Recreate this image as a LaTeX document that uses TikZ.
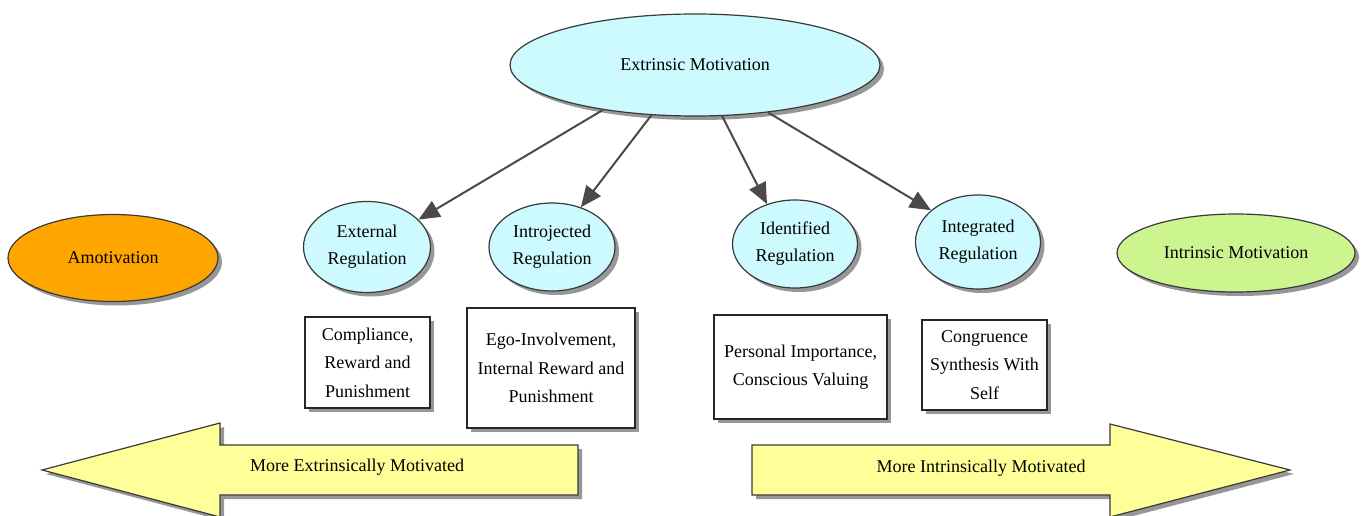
\documentclass[tikz,border=0pt]{standalone}
\usepackage{fontspec}
\setmainfont{Liberation Serif}
\usetikzlibrary{shapes.geometric,shadows,arrows.meta}

\definecolor{cyanfill}{HTML}{CCFAFE}
\definecolor{orangefill}{HTML}{FFA500}
\definecolor{greenfill}{HTML}{CCF590}
\definecolor{yellowfill}{HTML}{FFFF99}
\definecolor{linkgray}{HTML}{4A4A4A}
\definecolor{edgegray}{HTML}{3A3A3A}

\tikzset{
  shade/.style={drop shadow={shadow xshift=4pt, shadow yshift=-4pt, fill=black!45, opacity=0.9}},
  oval/.style={ellipse, draw=edgegray, line width=1.2pt, inner sep=0pt, shade,
    align=center, font=\fontsize{18}{27}\selectfont},
  notebox/.style={rectangle, draw=black!85, line width=1.5pt, fill=white, inner sep=0pt,
    shade, align=center, font=\fontsize{18}{28.5}\selectfont},
  bigarrow/.style={draw=edgegray, line width=1.2pt, fill=yellowfill, shade},
  link/.style={draw=linkgray, line width=2pt,
    -{Triangle[length=21pt,width=18pt]}, fill=linkgray},
  label/.style={font=\fontsize{18}{22}\selectfont, inner sep=0pt}
}

\begin{document}
\begin{tikzpicture}[x=1pt,y=-1pt]
\useasboundingbox (0,0) rectangle (1365,516);

% top concept
\node[oval, fill=cyanfill, minimum width=370pt, minimum height=102pt] (em) at (695,65) {Extrinsic Motivation};

% two ends of the continuum
\node[oval, fill=orangefill, minimum width=210pt, minimum height=87pt] (amo) at (113,258) {Amotivation};
\node[oval, fill=greenfill, minimum width=238pt, minimum height=78pt] (im) at (1236,253) {Intrinsic Motivation};

% regulation styles
\node[oval, fill=cyanfill, minimum width=127pt, minimum height=91pt] (ext) at (367,247) {External\\Regulation};
\node[oval, fill=cyanfill, minimum width=126pt, minimum height=88pt] (intro) at (552,247) {Introjected\\Regulation};
\node[oval, fill=cyanfill, minimum width=125pt, minimum height=88pt] (iden) at (795,244) {Identified\\Regulation};
\node[oval, fill=cyanfill, minimum width=125pt, minimum height=94pt] (integ) at (978,242) {Integrated\\Regulation};

% descriptions
\node[notebox, minimum width=125pt, minimum height=91pt] (b1) at (367.5,362.5) {Compliance,\\Reward and\\Punishment};
\node[notebox, minimum width=168pt, minimum height=120pt] (b2) at (551,368) {Ego-Involvement,\\Internal Reward and\\Punishment};
\node[notebox, minimum width=173pt, minimum height=104pt] (b3) at (800.5,367) {Personal Importance,\\Conscious Valuing};
\node[notebox, minimum width=125pt, minimum height=90pt] (b4) at (984.5,365) {Congruence\\Synthesis With\\Self};

% links from the top concept
\draw[link] (em.206) -- (ext.28);
\draw[link] (em.229) -- (intro.54);
\draw[link] (em.298) -- (iden.125);
\draw[link] (em.327) -- (integ.146);

% direction arrows along the bottom
\filldraw[bigarrow] (42,470) -- (220,423) -- (220,445) -- (578,445) -- (578,495)
  -- (220,495) -- (220,517) -- cycle;
\node[label] (lefttext) at (357,467) {More Extrinsically Motivated};

\filldraw[bigarrow] (1290,470) -- (1110,424) -- (1110,445) -- (752,445) -- (752,495)
  -- (1110,495) -- (1110,517) -- cycle;
\node[label] (righttext) at (981,468) {More Intrinsically Motivated};
\end{tikzpicture}
\end{document}
